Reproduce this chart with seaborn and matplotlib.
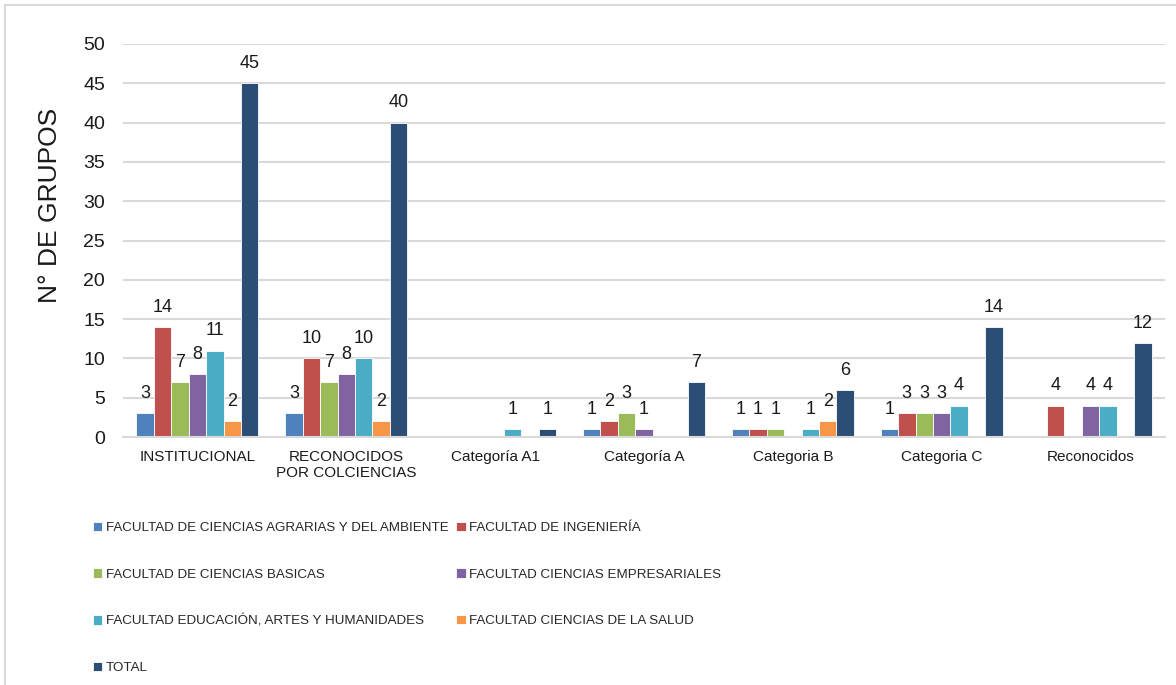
import matplotlib
matplotlib.use("Agg")
import matplotlib.pyplot as plt
from matplotlib.patches import Rectangle
import seaborn as sns
import pandas as pd
import numpy as np

nan = np.nan

# categories on the x axis
categories = ["INSTITUCIONAL", "RECONOCIDOS\nPOR COLCIENCIAS", "Categoría A1",
              "Categoría A", "Categoria B", "Categoria C", "Reconocidos"]

# one list per faculty (nan = no bar)
agrarias = [3, 3, nan, 1, 1, 1, nan]
ingenieria = [14, 10, nan, 2, 1, 3, 4]
basicas = [7, 7, nan, 3, 1, 3, nan]
empresariales = [8, 8, nan, 1, nan, 3, 4]
educacion = [11, 10, 1, nan, 1, 4, 4]
salud = [2, 2, nan, nan, 2, nan, nan]
total = [45, 40, 1, 7, 6, 14, 12]

series_names = ["FACULTAD DE CIENCIAS AGRARIAS Y DEL AMBIENTE",
                "FACULTAD DE INGENIERÍA",
                "FACULTAD DE CIENCIAS BASICAS",
                "FACULTAD CIENCIAS EMPRESARIALES",
                "FACULTAD EDUCACIÓN, ARTES Y HUMANIDADES",
                "FACULTAD CIENCIAS DE LA SALUD",
                "TOTAL"]
series_values = [agrarias, ingenieria, basicas, empresariales, educacion, salud, total]

colors = ["#4F81BD", "#C0504D", "#9BBB59", "#8064A2", "#4BACC6", "#F79646", "#2C4D75"]


def build_frame():
    rows = []
    for name, vals in zip(series_names, series_values):
        for cat, v in zip(categories, vals):
            rows.append({"Categoria": cat, "Serie": name, "Grupos": v})
    return pd.DataFrame(rows)


def plot_groups(df):
    sns.set_style("white")
    plt.rcParams["font.family"] = ["Liberation Sans", "DejaVu Sans"]

    fig = plt.figure(figsize=(11.76, 6.85), dpi=100)
    ax = fig.add_axes([0.1046, 0.362, 0.886, 0.5738])

    sns.barplot(data=df, x="Categoria", y="Grupos", hue="Serie",
                order=categories, hue_order=series_names, palette=colors,
                saturation=1, width=0.82, gap=0, edgecolor="white", linewidth=0.6,
                errorbar=None, ax=ax)

    for cont in ax.containers:
        ax.bar_label(cont, fmt="%g", padding=8, fontsize=13, color="#1a1a1a")

    ax.set_ylim(0, 50)
    ax.set_yticks(range(0, 51, 5))
    ax.grid(axis="y", color="#D9D9D9", linewidth=1.5)
    ax.set_axisbelow(True)
    for s in ["left", "right", "top"]:
        ax.spines[s].set_visible(False)
    ax.spines["bottom"].set_color("#D9D9D9")
    ax.spines["bottom"].set_linewidth(1.5)

    ax.tick_params(axis="y", length=0, pad=13, labelsize=14, labelcolor="#1a1a1a")
    ax.tick_params(axis="x", length=0, pad=9, labelsize=11, labelcolor="#1a1a1a")
    ax.set_xlabel("")
    ax.set_ylabel("N° DE GRUPOS", fontsize=19, color="#1a1a1a")
    ax.yaxis.set_label_coords(-0.0585, 0.588)

    # legend below, two columns filled row by row
    handles, labels = ax.get_legend_handles_labels()
    ax.get_legend().remove()
    order = [0, 2, 4, 6, 1, 3, 5]
    fig.legend([handles[i] for i in order], [labels[i] for i in order],
               loc="upper left", bbox_to_anchor=(0.079, 0.238), ncol=2,
               frameon=False, handlelength=0.7, handleheight=0.7,
               handletextpad=0.25, columnspacing=0.6, labelspacing=2.55,
               borderpad=0, borderaxespad=0, prop={"size": 9.6})

    # light chart border
    fig.patches.append(Rectangle((5 / 1176, -0.05), 1.1, 1 - 5 / 685 + 0.05,
                                 transform=fig.transFigure, fill=False,
                                 edgecolor="#D9D9D9", linewidth=1.5))

    fig.savefig("out.png", dpi=100)


if __name__ == "__main__":
    data = build_frame()
    plot_groups(data)
